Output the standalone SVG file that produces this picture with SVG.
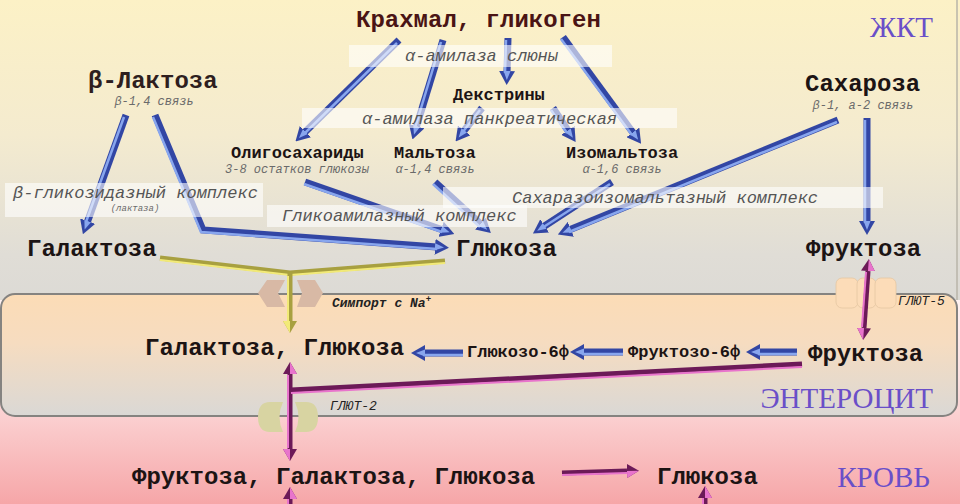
<svg xmlns="http://www.w3.org/2000/svg" width="960" height="504" viewBox="0 0 960 504">
<defs>
<style>
.L{font-family:"Liberation Mono","DejaVu Sans Mono",monospace;font-weight:bold;font-size:24px;fill:#1c1414}
.M{font-family:"Liberation Mono","DejaVu Sans Mono",monospace;font-weight:bold;font-size:17px;fill:#1c1414}
.s{font-family:"Liberation Mono","DejaVu Sans Mono",monospace;font-style:italic;font-size:12px;fill:#6a6a6a}
.e{font-family:"Liberation Mono","DejaVu Sans Mono",monospace;font-style:italic;font-size:17px;fill:#555}
.t{font-family:"Liberation Mono","DejaVu Sans Mono",monospace;font-style:italic;font-size:13px;fill:#222}
.R{font-family:"Liberation Serif","Times New Roman",serif;font-size:29px;fill:#6a4fc8}
.box{fill:#fff;fill-opacity:0.6}
.b{fill:none;stroke:#3246a4;stroke-width:7;marker-end:url(#hb)}
.bh{fill:none;stroke:#88a6ee;stroke-width:2.5}
.m{fill:none;stroke:#6c1a58;stroke-width:5}
.mh{fill:none;stroke:#e874cc;stroke-width:2}
.y{fill:none;stroke:#a8a040;stroke-width:5}
.yh{fill:none;stroke:#f2ea78;stroke-width:2}
</style>
<linearGradient id="gTop" x1="0" y1="0" x2="0" y2="1">
<stop offset="0" stop-color="#fcf1c6"/>
<stop offset="0.45" stop-color="#f4ebcf"/>
<stop offset="0.85" stop-color="#e0ddd6"/>
<stop offset="1" stop-color="#dcdad5"/>
</linearGradient>
<linearGradient id="gEnt" x1="0" y1="0" x2="0" y2="1">
<stop offset="0" stop-color="#fcdcb6"/>
<stop offset="0.4" stop-color="#f6dcc0"/>
<stop offset="1" stop-color="#dad8d5"/>
</linearGradient>
<linearGradient id="gBl" x1="0" y1="0" x2="0" y2="1">
<stop offset="0" stop-color="#fff2f2"/>
<stop offset="0.4" stop-color="#fde0e0"/>
<stop offset="1" stop-color="#f6a6a8"/>
</linearGradient>
<marker id="hb" viewBox="0 0 14 16" refX="2" refY="8" markerWidth="14" markerHeight="16" markerUnits="userSpaceOnUse" orient="auto">
<path d="M0,0 L14,8 L0,16 Z" fill="#3246a4"/>
<path d="M0,4.5 L9,8 L0,11.5 Z" fill="#88a6ee"/>
</marker>
<marker id="hm" viewBox="0 0 12 14" refX="0" refY="7" markerWidth="12" markerHeight="14" markerUnits="userSpaceOnUse" orient="auto-start-reverse">
<path d="M0,0 L12,7 L0,14 Z" fill="#6c1a58"/>
<path d="M0,7 L12,7 L0,14 Z" fill="#e874cc"/>
</marker>
<marker id="hy" viewBox="0 0 12 14" refX="0" refY="7" markerWidth="12" markerHeight="14" markerUnits="userSpaceOnUse" orient="auto">
<path d="M0,0 L12,7 L0,14 Z" fill="#a8a040"/>
<path d="M0,7 L12,7 L0,14 Z" fill="#f2ea78"/>
</marker>
</defs>

<g id="background">
<rect x="0" y="0" width="960" height="300" fill="url(#gTop)"/>
<rect x="0" y="300" width="960" height="204" fill="url(#gBl)"/>
<line x1="957" y1="0" x2="957" y2="300" stroke="#b8b4a8" stroke-width="1.5"/>
</g>

<g id="enterocyte">
<rect x="1" y="294" width="956" height="122" rx="14" fill="url(#gEnt)" stroke="#858380" stroke-width="2"/>
</g>

<g id="transporters">
<polygon points="258,293 267,280 285,280 278,293 285,307 267,307" fill="#d8b9a5"/>
<polygon points="297,280 315,280 323,293 315,307 297,307 302,293" fill="#d8b9a5"/>
<path d="M270,402 L283,402 Q276,417 283,432 L270,432 Q258,432 258,417 Q258,402 270,402 Z" fill="#d8d4a2"/>
<path d="M295,402 L306,402 Q318,402 318,417 Q318,432 306,432 L295,432 Q302,417 295,402 Z" fill="#d8d4a2"/>
<rect x="836" y="278" width="22" height="30" rx="6" fill="#fcdcb8" stroke="#e4c6a2" stroke-width="0.8"/>
<rect x="857" y="278" width="19" height="30" rx="6" fill="#fcdcb8" stroke="#e4c6a2" stroke-width="0.8"/>
<rect x="875" y="278" width="21" height="30" rx="6" fill="#fcdcb8" stroke="#e4c6a2" stroke-width="0.8"/>
</g>

<g id="connectors">
<path class="b" d="M399,40 L304,133"/><path class="bh" d="M397,43 L304,134"/>
<path class="b" d="M443,40 L416,128"/><path class="bh" d="M441,42 L415,128"/>
<path class="b" d="M508,38 L507,73"/><path class="bh" d="M506,40 L505,73"/>
<path class="b" d="M563,37 L634,134"/><path class="bh" d="M561,39 L632,135"/>
<path class="b" d="M482,108 L463,132"/><path class="bh" d="M480,110 L462,133"/>
<path class="b" d="M553,108 L569,132"/><path class="bh" d="M551,110 L567,133"/>
<path class="b" d="M126,115 L87,223"/><path class="bh" d="M124,117 L86,222"/>
<path class="b" d="M155,115 L203,230 L437,247"/><path class="bh" d="M153,117 L201,232 L437,249"/>
<path class="b" d="M305,182 L443,230"/><path class="bh" d="M304,184 L442,232"/>
<path class="b" d="M435,182 L482,225"/><path class="bh" d="M433,184 L480,227"/>
<path class="b" d="M612,182 L543,227"/><path class="bh" d="M610,184 L542,228"/>
<path class="b" d="M838,120 L569,230"/><path class="bh" d="M837,122 L569,232"/>
<path class="b" d="M867,118 L867,223"/><path class="bh" d="M865,120 L865,223"/>
<path class="b" d="M797,352 L758,352"/><path class="bh" d="M797,354 L758,354"/>
<path class="b" d="M623,352 L582,352"/><path class="bh" d="M623,354 L582,354"/>
<path class="b" d="M463,353 L423,353"/><path class="bh" d="M463,355 L423,355"/>

<path class="y" d="M160,258 L290,273 L445,261"/><path class="yh" d="M160,260 L290,275 L445,263"/>
<path class="y" d="M290,273 L290,321" marker-end="url(#hy)"/><path class="yh" d="M288,276 L288,321"/>

<path class="m" d="M868,271 L864,328" marker-start="url(#hm)" marker-end="url(#hm)"/><path class="mh" d="M866,272 L862,327"/>
<path class="m" d="M290,374 L290,449" marker-start="url(#hm)" marker-end="url(#hm)"/><path class="mh" d="M288,375 L288,448"/>
<path class="m" d="M291,390 L802,364"/><path class="mh" d="M291,393 L802,367"/>
<path class="m" d="M562,473 L627,471" marker-end="url(#hm)"/><path class="mh" d="M562,475 L627,473"/>
<path class="m" d="M290,510 L290,499" marker-end="url(#hm)"/><path class="mh" d="M288,510 L288,499"/>
<path class="m" d="M705,510 L705,498" marker-end="url(#hm)"/><path class="mh" d="M703,510 L703,498"/>
</g>

<g id="enzymes">
<g id="amylase-saliva"><rect class="box" x="349" y="45" width="263" height="22"/><text class="e" x="405" y="61">α-амилаза слюны</text></g>
<g id="amylase-pancreas"><rect class="box" x="302" y="108" width="375" height="20"/><text class="e" x="362" y="124">α-амилаза панкреатическая</text></g>
<g id="lactase"><rect class="box" x="5" y="183" width="258" height="34"/><text class="e" x="13" y="198">β-гликозидазный комплекс</text><text class="s" x="135" y="211" text-anchor="middle" style="font-size:9px">(лактаза)</text></g>
<g id="sucrase"><rect class="box" x="443" y="187" width="440" height="21"/><text class="e" x="512" y="203">Сахаразоизомальтазный комплекс</text></g>
<g id="glucoamylase"><rect class="box" x="267" y="205" width="260" height="22"/><text class="e" x="282" y="221">Гликоамилазный комплекс</text></g>
</g>

<g id="n-starch"><text class="L" x="356" y="27" style="fill:#4a1414">Крахмал, гликоген</text></g>
<g id="n-lactose"><text class="L" x="88" y="88" style="fill:#2e1e1e">β-Лактоза</text><text class="s" x="154" y="105" text-anchor="middle">β-1,4 связь</text></g>
<g id="n-dextrin"><text class="M" x="453" y="100">Декстрины</text></g>
<g id="n-oligo"><text class="M" x="231" y="158">Олигосахариды</text><text class="s" x="225" y="173">3-8 остатков глюкозы</text></g>
<g id="n-maltose"><text class="M" x="394" y="158">Мальтоза</text><text class="s" x="435" y="173" text-anchor="middle">α-1,4 связь</text></g>
<g id="n-isomaltose"><text class="M" x="566" y="158">Изомальтоза</text><text class="s" x="622" y="173" text-anchor="middle">α-1,6 связь</text></g>
<g id="n-sucrose"><text class="L" x="805" y="91">Сахароза</text><text class="s" x="863" y="109" text-anchor="middle">β-1, а-2 связь</text></g>
<g id="n-galactose"><text class="L" x="27" y="256">Галактоза</text></g>
<g id="n-glucose"><text class="L" x="456" y="256">Глюкоза</text></g>
<g id="n-fructose"><text class="L" x="806" y="256">Фруктоза</text></g>
<g id="n-symport"><text class="t" x="332" y="307" style="font-weight:bold">Симпорт с Na<tspan dy="-5" style="font-size:9px">+</tspan></text></g>
<g id="n-glut5"><text class="t" x="898" y="305">ГЛЮТ-5</text></g>
<g id="n-glut2"><text class="t" x="330" y="410">ГЛЮТ-2</text></g>
<g id="n-galglu"><text class="L" x="145" y="355">Галактоза, Глюкоза</text></g>
<g id="n-g6p"><text class="M" x="467" y="357">Глюкозо-6ф</text></g>
<g id="n-f6p"><text class="M" x="628" y="357">Фруктозо-6ф</text></g>
<g id="n-fructose-in"><text class="L" x="808" y="361">Фруктоза</text></g>
<g id="n-blood-mix"><text class="L" x="132" y="484">Фруктоза, Галактоза, Глюкоза</text></g>
<g id="n-blood-glucose"><text class="L" x="657" y="484">Глюкоза</text></g>
<g id="regions">
<text class="R" x="933" y="37" text-anchor="end">ЖКТ</text>
<text class="R" x="933" y="408" text-anchor="end">ЭНТЕРОЦИТ</text>
<text class="R" x="930" y="487" text-anchor="end">КРОВЬ</text>
</g>
</svg>
